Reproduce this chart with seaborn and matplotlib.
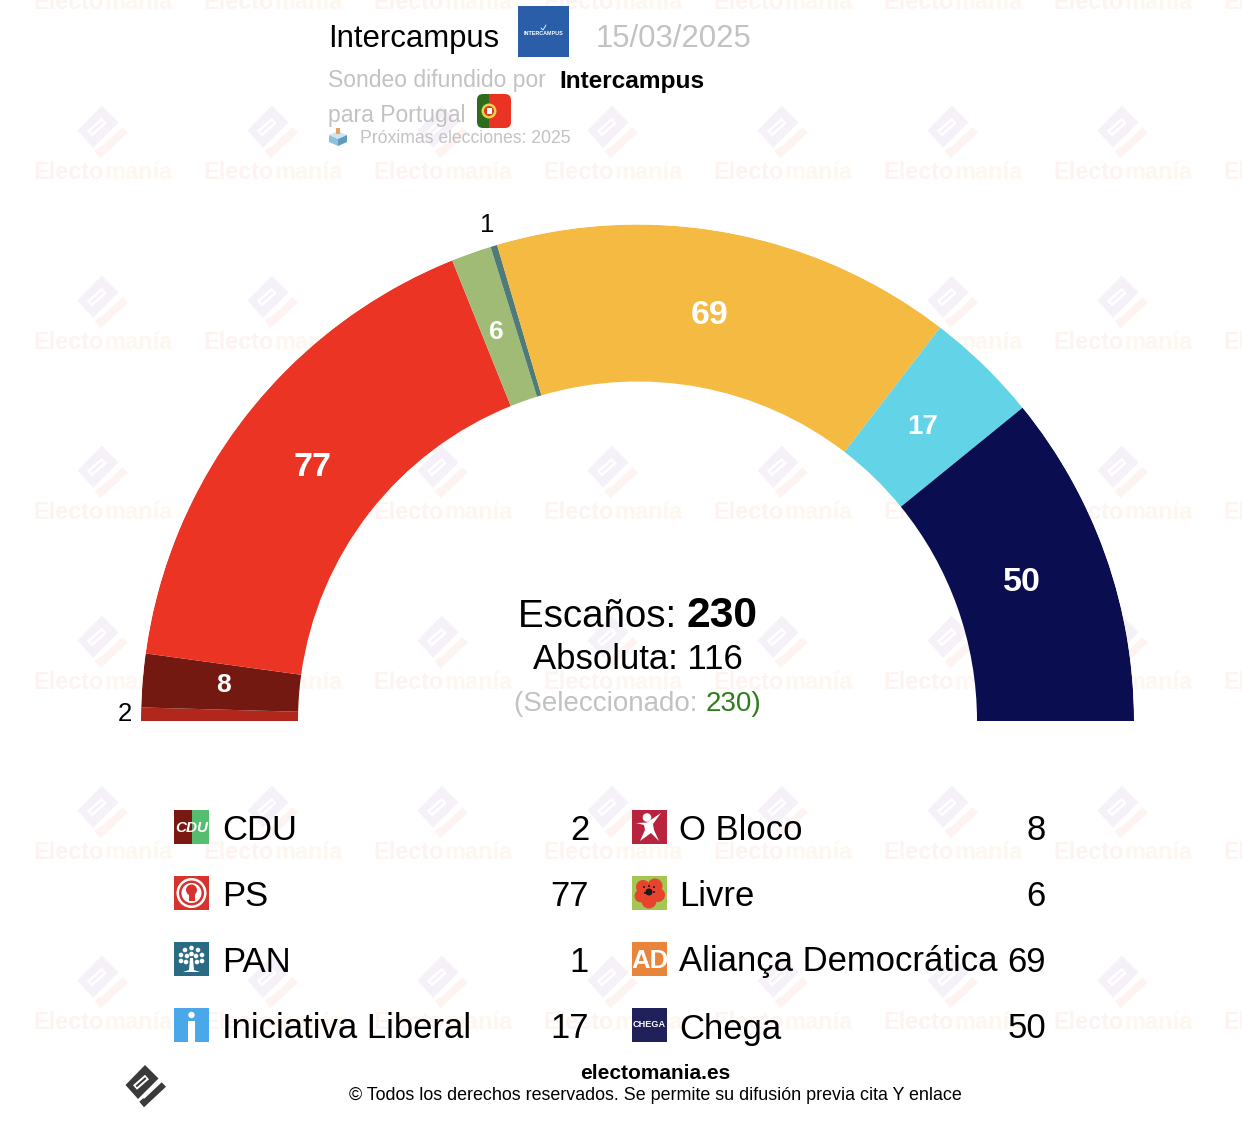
import matplotlib
matplotlib.use('Agg')
import numpy as np
import matplotlib.pyplot as plt
import seaborn as sns
from matplotlib.patches import Rectangle, Circle, Polygon, FancyBboxPatch

parties = ['CDU', 'O Bloco', 'PS', 'Livre', 'PAN', 'Aliança Democrática', 'Iniciativa Liberal', 'Chega']
seats = [2, 8, 77, 6, 1, 69, 17, 50]
party_colors = ['#b1271b', '#731912', '#eb3424', '#a0bb76', '#4f7a7a', '#f5ba42', '#63d4e8', '#0a0e50']

# the legend reads row by row over two columns
legend_left = ['CDU', 'PS', 'PAN', 'Iniciativa Liberal']
legend_right = ['O Bloco', 'Livre', 'Aliança Democrática', 'Chega']

total_seats = 230
majority = 116
selected = 230
pollster = 'Intercampus'
poll_date = '15/03/2025'

W, H = 1242, 1124
CX, CY = 637.5, 721
R_OUT, R_IN = 496.5, 339.5
GREY = '#c2c2c2'
GREEN = '#2e7d1a'

sns.set_theme(style='white')
plt.rcParams['font.family'] = ['Liberation Sans', 'DejaVu Sans']
palette = sns.color_palette(party_colors)

fig = plt.figure(figsize=(W / 100, H / 100), dpi=100, facecolor='white')


def pixel_axes(z):
    ax = fig.add_axes([0, 0, 1, 1], zorder=z)
    ax.set_xlim(0, W)
    ax.set_ylim(H, 0)
    ax.axis('off')
    return ax


back = pixel_axes(0)
front = pixel_axes(2)
renderer = fig.canvas.get_renderer()


def inline(ax, x, y, parts, ha='left', **kw):
    # several text runs on one baseline, parts = (string, color, weight, size)
    items = []
    for s, color, weight, size in parts:
        items.append(ax.text(x, y, s, color=color, fontweight=weight, fontsize=size, va='baseline', ha='left', **kw))
    widths = [t.get_window_extent(renderer).width for t in items]
    if ha == 'center':
        x = x - sum(widths) / 2
    for t, w in zip(items, widths):
        t.set_x(x)
        x += w


def logo(ax, cx, cy, k, main, check, z=1):
    main_pts = [(-1, -22), (12.5, -8.5), (-8, 12), (-20.5, -2)]
    ring_pts = [(-13, -1.75), (-1, -12.25), (3, -7.75), (-9, 2.75)]
    slot_pts = [(-10.5, -1.25), (-0.9, -9.75), (0.5, -8.25), (-9.1, 0.25)]
    check_pts = [(-6.7, 14.7), (-2, 20.3), (20, -0.3), (15.7, -4.7), (-1.5, 11.5), (-3, 11.5)]
    for pts, c in [(main_pts, main), (ring_pts, 'white'), (slot_pts, main), (check_pts, check)]:
        ax.add_patch(Polygon([(cx + k * a, cy + k * b) for a, b in pts], closed=True, fc=c, ec='none', zorder=z))


# watermark behind everything
for col in range(8):
    wx = 103 + 170 * col
    for row in range(7):
        wy = -37 + 170 * row
        logo(back, wx, wy, 1.24, '#f6f1f8', '#fdf3f1')
        inline(back, wx, wy + 46, [('Electo', '#fdf3f1', 'bold', 16.9), ('manía', '#fef7f0', 'bold', 16.9)], ha='center')

# hemicycle as a stacked bar on polar axes
polar = fig.add_axes([(CX - R_OUT) / W, (H - CY - R_OUT) / H, 2 * R_OUT / W, 2 * R_OUT / H],
                     projection='polar', zorder=1)
polar.set_theta_zero_location('W')
polar.set_theta_direction(-1)
polar.set_ylim(0, R_OUT)
polar.axis('off')
polar.patch.set_alpha(0)

seat_arr = np.array(seats)
start = np.concatenate([[0], np.cumsum(seat_arr)[:-1]])
scale = np.pi / total_seats
polar.bar((start + seat_arr / 2) * scale, R_OUT - R_IN, width=seat_arr * scale, bottom=R_IN,
          color=palette, linewidth=0)

label_sizes = {8: 19, 6: 19, 17: 20}
# small shifts in pixels, the labels are not exactly on the mid radius
label_nudge = {8: (-2, 2), 77: (1, -1), 6: (-3, 0), 69: (-4, 0), 17: (-3, -2), 50: (-5, 0)}
for s, st in zip(seats, start):
    mid = (st + s / 2) * scale
    if s <= 2:
        # too thin for a label inside, goes outside the ring
        r = R_OUT + (22 if s == 1 else 16)
        polar.text(mid, r, str(s), color='black', fontsize=18.5, ha='center', va='center', clip_on=False)
    else:
        polar.annotate(str(s), (mid, 413), xytext=label_nudge[s], textcoords='offset pixels', color='white',
                       fontweight='bold', fontsize=label_sizes.get(s, 24.5), ha='center', va='center')

# header
front.text(328, 47, pollster, color='black', fontsize=22.4, va='baseline')
front.text(596, 47, poll_date, color=GREY, fontsize=22.4, va='baseline')
front.add_patch(Rectangle((518, 6), 51, 51, fc='#2a5ea8', ec='none'))
front.text(543.5, 33.5, 'INTERCAMPUS', color='white', fontsize=3.9, fontweight='bold', ha='center', va='center')
front.plot([541, 543, 546], [28, 30, 25], color='white', lw=0.6)
front.text(328, 87, 'Sondeo difundido por', color=GREY, fontsize=16.5, va='baseline')
front.text(559, 88, pollster, color='black', fontsize=17.6, fontweight='bold', va='baseline')
front.text(328, 122, 'para Portugal', color=GREY, fontsize=16.5, va='baseline')
front.text(360, 143, 'Próximas elecciones: 2025', color=GREY, fontsize=12.7, va='baseline')

# flag
clip = FancyBboxPatch((477, 94), 34, 34, boxstyle='round,pad=0,rounding_size=6', fc='none', ec='none')
front.add_patch(clip)
for bx, bw, c in [(477, 12, '#2f6b1d'), (489, 22, '#ea3323')]:
    p = Rectangle((bx, 94), bw, 34, fc=c, ec='none')
    front.add_patch(p)
    p.set_clip_path(clip)
front.add_patch(Circle((489, 111), 7.5, fc='#e8d24a', ec='none'))
front.add_patch(Circle((489, 111), 5, fc='#d43a2a', ec='none'))
front.add_patch(Rectangle((486.5, 108), 5, 6, fc='white', ec='none'))

# ballot box
front.add_patch(Polygon([(329, 135), (338, 131), (347, 135), (338, 139)], fc='#cfe6f2', ec='none'))
front.add_patch(Polygon([(329, 135), (338, 139), (338, 146), (329, 142)], fc='#8fc0dc', ec='none'))
front.add_patch(Polygon([(338, 139), (347, 135), (347, 142), (338, 146)], fc='#5f9cc0', ec='none'))
front.add_patch(Rectangle((335.5, 128), 4.5, 6, fc='#e8a25a', ec='none'))

# centre text
inline(front, CX + 0.5, 627, [('Escaños: ', 'black', 'normal', 27.7), (str(total_seats), 'black', 'bold', 30.7)], ha='center')
front.text(CX, 669, f'Absoluta: {majority}', color='black', fontsize=25, ha='center', va='baseline')
inline(front, CX, 711, [('(Seleccionado: ', GREY, 'normal', 20), (f'{selected})', GREEN, 'normal', 20)], ha='center')


# party icons
def icon_cdu(x, y):
    front.add_patch(Rectangle((x, y), 17.5, 34, fc='#7a1812', ec='none'))
    front.add_patch(Rectangle((x + 17.5, y), 17.5, 34, fc='#55bd6f', ec='none'))
    front.text(x + 17.5, y + 18, 'CDU', color='white', fontsize=11, fontweight='bold', style='italic', ha='center', va='center')


def icon_ps(x, y):
    front.add_patch(Rectangle((x, y), 35, 34, fc='#d6322e', ec='none'))
    front.add_patch(Circle((x + 17.5, y + 17), 15, fc='white', ec='none'))
    front.add_patch(Circle((x + 17.5, y + 17), 12.5, fc='#d6322e', ec='none'))
    front.add_patch(Circle((x + 17.5, y + 17), 10, fc='white', ec='none'))
    front.add_patch(Circle((x + 17.5, y + 14), 5.5, fc='#d6322e', ec='none'))
    front.add_patch(Rectangle((x + 14.5, y + 17), 6, 8, fc='#d6322e', ec='none'))


def icon_pan(x, y):
    front.add_patch(Rectangle((x, y), 35, 34, fc='#2a6a85', ec='none'))
    front.add_patch(Polygon([(x + 16, y + 16), (x + 19, y + 16), (x + 20, y + 28), (x + 26, y + 30), (x + 9, y + 30), (x + 15, y + 28)], fc='white', ec='none'))
    for a, b in [(17.5, 6), (11, 8), (24, 8), (7, 13), (28, 13), (13, 14), (22, 14), (17.5, 12), (7, 19), (28, 19), (12, 20), (23, 20)]:
        front.add_patch(Circle((x + a, y + b), 2.3, fc='white', ec='none'))


def icon_il(x, y):
    front.add_patch(Rectangle((x, y), 35, 34, fc='#4aa8e8', ec='none'))
    front.add_patch(Circle((x + 17.5, y + 7), 3.2, fc='white', ec='none'))
    front.add_patch(Rectangle((x + 14, y + 12.5), 7, 21.5, fc='white', ec='none'))


def icon_bloco(x, y):
    front.add_patch(Rectangle((x, y), 35, 34, fc='#b9233d', ec='none'))
    front.add_patch(Circle((x + 15, y + 7.5), 4.3, fc='white', ec='none'))
    front.add_patch(Polygon([(x + 29, y + 3), (x + 21, y + 14), (x + 22, y + 20), (x + 27, y + 31), (x + 19, y + 23),
                             (x + 8, y + 31), (x + 13, y + 20), (x + 12, y + 15), (x + 4, y + 13), (x + 15, y + 12.5)],
                            fc='white', ec='none'))


def icon_livre(x, y):
    front.add_patch(Rectangle((x, y), 35, 34, fc='#a4c653', ec='none'))
    for a, b, r in [(11, 11, 7), (23, 10, 7.5), (26, 19, 7), (17, 25, 7.5), (9, 20, 6.5)]:
        front.add_patch(Circle((x + a, y + b), r, fc='#e8432e', ec='none'))
    front.add_patch(Circle((x + 17, y + 16), 3.5, fc='#1a1a1a', ec='none'))
    for a, b in [(12, 11), (22, 11), (13, 17), (22, 16), (17, 10)]:
        front.add_patch(Circle((x + a, y + b), 1, fc='#1a1a1a', ec='none'))


def icon_ad(x, y):
    front.add_patch(Rectangle((x, y), 35, 34, fc='#e8853a', ec='none'))
    front.text(x + 17.5, y + 18.5, 'AD', color='white', fontsize=18.5, fontweight='bold', ha='center', va='center')


def icon_chega(x, y):
    front.add_patch(Rectangle((x, y), 35, 34, fc='#20205a', ec='none'))
    front.text(x + 17.5, y + 16.5, 'CHEGA', color='white', fontsize=6.6, fontweight='bold', ha='center', va='center')


icons = {'CDU': icon_cdu, 'PS': icon_ps, 'PAN': icon_pan, 'Iniciativa Liberal': icon_il,
         'O Bloco': icon_bloco, 'Livre': icon_livre, 'Aliança Democrática': icon_ad, 'Chega': icon_chega}

seats_by_party = dict(zip(parties, seats))
row_base = [839.5, 905.5, 971.5, 1038.5]
row_icon = [810, 876, 942, 1008]
for names, ix, tx, nx in [(legend_left, 174, 222, 589), (legend_right, 632, 679, 1046)]:
    for name, b, iy in zip(names, row_base, row_icon):
        icons[name](ix, iy)
        front.text(tx, b, name, color='black', fontsize=24.9, va='baseline')
        front.text(nx, b, str(seats_by_party[name]), color='black', fontsize=24.9, ha='right', va='baseline')

# footer
logo(front, 146, 1087, 1.0, '#3a3a3a', '#3a3a3a')
front.text(655.5, 1079, 'electomania.es', color='black', fontsize=15, fontweight='bold', ha='center', va='baseline')
front.text(655, 1100, '© Todos los derechos reservados. Se permite su difusión previa cita Y enlace',
           color='black', fontsize=12.9, ha='center', va='baseline')

fig.savefig('out.png', dpi=100, facecolor='white')
